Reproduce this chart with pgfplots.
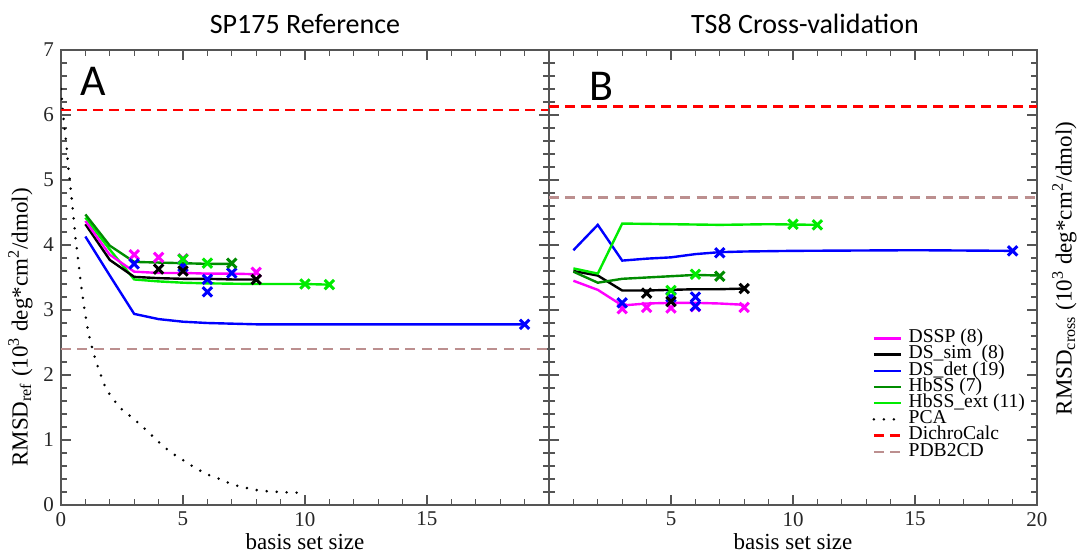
\documentclass[border=0pt]{standalone}
\usepackage{fontspec}
\setmainfont{Liberation Serif}
\newfontfamily\carlito{Carlito}
\usepackage{pgfplots}
\pgfplotsset{compat=1.18}

\definecolor{dsspmag}{RGB}{255,0,255}
\definecolor{detblue}{RGB}{0,0,255}
\definecolor{hbssgreen}{RGB}{0,140,0}
\definecolor{hbextgreen}{RGB}{0,235,0}
\definecolor{dcred}{RGB}{255,0,0}
\definecolor{pdbbrown}{RGB}{188,143,143}
\definecolor{axgray}{RGB}{85,85,85}

\pgfplotsset{
  panel/.style={
    scale only axis, width=244pt, height=227.5pt,
    xmin=0, xmax=20, ymin=0, ymax=7,
    minor xtick={0,...,20}, ytick={0,...,7}, minor ytick={0,0.2,...,7},
    axis line style={axgray, line width=0.8pt},
    every tick/.style={axgray, line width=0.6pt},
    major tick length=5pt, minor tick length=3pt,
    tick label style={font=\fontsize{10.5}{12}\selectfont, text=black!85},
    /pgf/number format/assume math mode=true,
    label style={font=\fontsize{11.5}{13}\selectfont},
    every axis title shift=0pt,
    title style={font=\carlito\fontsize{14}{16}\selectfont, at={(0.5,1)}, anchor=base, inner sep=0pt, yshift=8.5pt},
    xlabel style={at={(axis description cs:0.5,0)}, anchor=north, inner sep=0pt, yshift=-14pt},
  },
  ser/.style={#1, line width=1.2pt, no marks},
  xm/.style={only marks, mark=x, mark size=3.3pt, #1, mark options={line width=1.5pt}},
  pca/.style={black, line width=1.4pt, dash pattern=on 0pt off 5pt, line cap=round},
  dcalc/.style={dcred, line width=1.3pt, dash pattern=on 5pt off 3pt},
  pdbcd/.style={pdbbrown, line width=1.1pt, dash pattern=on 5pt off 3.2pt},
}

\begin{document}
\begin{tikzpicture}
\useasboundingbox (0,0) rectangle (539pt,277pt);

% ---- A: SP175 reference
\begin{axis}[panel, at={(30.5pt,24.5pt)}, anchor=south west,
  title={SP175 Reference},
  xtick={0,5,10,15},
  xlabel={basis set size},
  ylabel={RMSD\textsubscript{ref} (10\textsuperscript{3} deg*cm\textsuperscript{2}/dmol)},
  ylabel style={at={([xshift=-14pt]axis description cs:0,0.39)}, anchor=south, inner sep=0pt},
]
\addplot[pca] coordinates {
  (0.0,6.40) (0.1,5.95) (0.2,5.62) (0.3,5.20) (0.4,4.85) (0.5,4.48) (0.6,4.08)
  (0.7,3.78) (0.8,3.45) (0.9,3.18) (1.0,2.92) (1.1,2.70) (1.2,2.52) (1.4,2.25)
  (1.6,2.03) (1.8,1.83) (2.0,1.70) (2.2,1.60) (2.5,1.47) (3.0,1.32) (3.5,1.15)
  (4.0,0.97) (4.5,0.81) (5.0,0.69) (5.5,0.57) (6.0,0.47) (6.5,0.40) (7.0,0.32)
  (7.5,0.27) (8.0,0.23) (8.5,0.21) (9.0,0.20) (9.5,0.19) (9.9,0.19)
};
\addplot[dcalc] coordinates {(0,6.08) (20,6.08)};
\addplot[pdbcd] coordinates {(0,2.40) (20,2.40)};

\addplot[ser=detblue] coordinates {(1,4.13) (2,3.53) (3,2.94) (4,2.86) (5,2.82) (6,2.80) (7,2.79) (8,2.78) (19,2.78)};
\addplot[ser=hbextgreen] coordinates {(1,4.42) (2,3.93) (3,3.47) (4,3.44) (5,3.42) (6,3.41) (8,3.40) (10,3.40) (11,3.39)};
\addplot[ser=black] coordinates {(1,4.32) (2,3.77) (3,3.51) (4,3.49) (5,3.48) (6,3.48) (7,3.47) (8,3.47)};
\addplot[ser=dsspmag] coordinates {(1,4.37) (2,3.85) (3,3.59) (4,3.57) (5,3.57) (6,3.56) (7,3.56) (8,3.55)};
\addplot[ser=hbssgreen] coordinates {(1,4.47) (2,3.99) (3,3.74) (4,3.73) (5,3.72) (6,3.71) (7,3.71)};

\addplot[xm=dsspmag] coordinates {(3,3.85) (4,3.81) (5,3.79) (8,3.58)};
\addplot[xm=detblue] coordinates {(3,3.71) (5,3.67) (6,3.47) (6,3.28) (7,3.57) (19,2.78)};
\addplot[xm=black] coordinates {(4,3.63) (5,3.60) (8,3.47)};
\addplot[xm=hbextgreen] coordinates {(5,3.78) (6,3.72) (10,3.40) (11,3.39)};
\addplot[xm=hbssgreen] coordinates {(7,3.72)};

\node[anchor=north west, inner sep=0pt, font=\carlito\fontsize{22}{24}\selectfont,
  xshift=9.5pt, yshift=-8.5pt] at (axis description cs:0,1) {A};
\end{axis}

% ---- B: TS8 cross-validation
\begin{axis}[panel, at={(274.5pt,24.5pt)}, anchor=south west,
  title={TS8 Cross-validation},
  title style={xshift=6pt},
  xtick={5,10,15,20},
  yticklabels={},
  xlabel={basis set size},
  ylabel={RMSD\textsubscript{cross} (10\textsuperscript{3} deg*cm\textsuperscript{2}/dmol)},
  ylabel style={at={([xshift=17.3pt]axis description cs:1,0.52)}, anchor=base, inner sep=0pt},
  legend style={at={(axis description cs:0.662,0.385)}, anchor=north west,
    draw=none, fill=none, inner sep=0pt, font=\fontsize{9.8}{9.8}\selectfont,
    row sep=0pt, column sep=3pt,
    nodes={inner sep=0.2pt, text height=6pt, text depth=1.7pt}},
  legend cell align=left,
  legend image code/.code={\draw[#1] (0pt,0pt) -- (13.5pt,0pt);},
]
\addplot[ser=dsspmag] coordinates {(1,3.45) (2,3.31) (3,3.07) (4,3.10) (5,3.11) (6,3.11) (7,3.10) (8,3.08)};
\addlegendentry{DSSP (8)}
\addplot[ser=black] coordinates {(1,3.60) (2,3.53) (3,3.30) (4,3.30) (5,3.31) (6,3.32) (7,3.32) (8,3.33)};
\addlegendentry{DS\_sim~ (8)}
\addplot[ser=detblue] coordinates {(1,3.92) (2,4.31) (3,3.76) (4,3.79) (5,3.81) (6,3.86) (7,3.89) (8,3.90) (10,3.91) (15,3.92) (19,3.91)};
\addlegendentry{DS\_det (19)}
\addplot[ser=hbssgreen] coordinates {(1,3.59) (2,3.42) (3,3.48) (4,3.50) (5,3.52) (6,3.54) (7,3.53)};
\addlegendentry{HbSS (7)}
\addplot[ser=hbextgreen] coordinates {(1,3.64) (2,3.56) (3,4.33) (5,4.32) (7,4.31) (9,4.32) (11,4.31)};
\addlegendentry{HbSS\_ext (11)}
\addlegendimage{pca}
\addlegendentry{PCA}
\addplot[dcalc] coordinates {(0,6.13) (20,6.13)};
\addlegendentry{DichroCalc}
\addplot[pdbcd] coordinates {(0,4.73) (20,4.73)};
\addlegendentry{PDB2CD}

\addplot[xm=dsspmag, forget plot] coordinates {(3,3.02) (4,3.04) (5,3.03) (6,3.05) (8,3.04)};
\addplot[xm=detblue, forget plot] coordinates {(3,3.11) (5,3.20) (6,3.20) (6,3.06) (7,3.88) (19,3.91)};
\addplot[xm=black, forget plot] coordinates {(4,3.26) (5,3.13) (8,3.33)};
\addplot[xm=hbextgreen, forget plot] coordinates {(5,3.30) (6,3.55) (10,4.32) (11,4.31)};
\addplot[xm=hbssgreen, forget plot] coordinates {(7,3.52)};

\node[anchor=north west, inner sep=0pt, font=\carlito\fontsize{22}{24}\selectfont,
  xshift=20pt, yshift=-11pt] at (axis description cs:0,1) {B};
\end{axis}
\end{tikzpicture}
\end{document}
